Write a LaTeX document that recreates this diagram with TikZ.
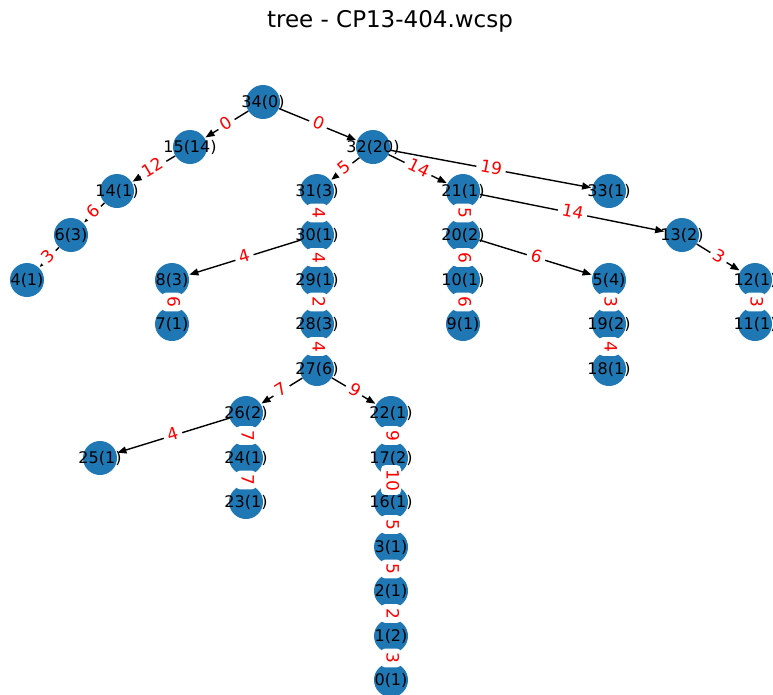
\documentclass[tikz,border=0pt]{standalone}
\usepackage{fontspec}
\setmainfont{DejaVu Sans}
\usetikzlibrary{arrows.meta}
\definecolor{nodeblue}{HTML}{1F77B4}
\pgfdeclarelayer{background}
\pgfdeclarelayer{foreground}
\pgfsetlayers{background,main,foreground}
\newcommand{\tedge}[3]{%
  \begin{pgfonlayer}{background}\draw[edgeline] (#1) -- (#2);\end{pgfonlayer}%
  \begin{pgfonlayer}{foreground}\path (#1) -- (#2) node[edgelabel]{#3};\end{pgfonlayer}}
\tikzset{
  tnode/.style={circle, fill=nodeblue, minimum size=34pt, inner sep=0pt,
    font=\fontsize{16}{19}\selectfont, text=black},
  edgeline/.style={line width=1.4pt, draw=black, -{Triangle[length=9pt,width=7pt]}, shorten >=1pt},
  edgelabel/.style={midway, sloped, text=red, fill=white, rounded corners=4pt,
    inner xsep=4pt, inner ysep=2.5pt, text height=12pt, text depth=3pt,
    font=\fontsize{17}{20}\selectfont},
  titlestyle/.style={font=\fontsize{23}{27}\selectfont, text=black}
}
\begin{document}
\begin{tikzpicture}[x=1pt,y=-1pt]
\useasboundingbox (0,0) rectangle (773,694);
\begin{pgfonlayer}{background}
\fill[white] (0,0) rectangle (773,694);
\end{pgfonlayer}
\node[titlestyle] (title) at (390,21) {tree - CP13-404.wcsp};
% nodes
\node[tnode] (n34) at (263,102) {\makebox[0pt]{34(0)}};
\node[tnode] (n15) at (190,147) {\makebox[0pt]{15(14)}};
\node[tnode] (n32) at (373,147) {\makebox[0pt]{32(20)}};
\node[tnode] (n14) at (117,191) {\makebox[0pt]{14(1)}};
\node[tnode] (n31) at (317,191) {\makebox[0pt]{31(3)}};
\node[tnode] (n21) at (463,191) {\makebox[0pt]{21(1)}};
\node[tnode] (n33) at (609,191) {\makebox[0pt]{33(1)}};
\node[tnode] (n6) at (71,235) {\makebox[0pt]{6(3)}};
\node[tnode] (n30) at (317,235) {\makebox[0pt]{30(1)}};
\node[tnode] (n20) at (463,235) {\makebox[0pt]{20(2)}};
\node[tnode] (n13) at (682,235) {\makebox[0pt]{13(2)}};
\node[tnode] (n4) at (27,280) {\makebox[0pt]{4(1)}};
\node[tnode] (n8) at (172,280) {\makebox[0pt]{8(3)}};
\node[tnode] (n29) at (317,280) {\makebox[0pt]{29(1)}};
\node[tnode] (n10) at (463,280) {\makebox[0pt]{10(1)}};
\node[tnode] (n5) at (609,280) {\makebox[0pt]{5(4)}};
\node[tnode] (n12) at (755,280) {\makebox[0pt]{12(1)}};
\node[tnode] (n7) at (172,324) {\makebox[0pt]{7(1)}};
\node[tnode] (n28) at (317,324) {\makebox[0pt]{28(3)}};
\node[tnode] (n9) at (463,324) {\makebox[0pt]{9(1)}};
\node[tnode] (n19) at (609,324) {\makebox[0pt]{19(2)}};
\node[tnode] (n11) at (755,324) {\makebox[0pt]{11(1)}};
\node[tnode] (n27) at (317,369) {\makebox[0pt]{27(6)}};
\node[tnode] (n18) at (609,369) {\makebox[0pt]{18(1)}};
\node[tnode] (n26) at (246,413) {\makebox[0pt]{26(2)}};
\node[tnode] (n22) at (391,413) {\makebox[0pt]{22(1)}};
\node[tnode] (n25) at (100,458) {\makebox[0pt]{25(1)}};
\node[tnode] (n24) at (246,458) {\makebox[0pt]{24(1)}};
\node[tnode] (n17) at (391,458) {\makebox[0pt]{17(2)}};
\node[tnode] (n23) at (246,502) {\makebox[0pt]{23(1)}};
\node[tnode] (n16) at (391,502) {\makebox[0pt]{16(1)}};
\node[tnode] (n3) at (391,547) {\makebox[0pt]{3(1)}};
\node[tnode] (n2) at (391,591) {\makebox[0pt]{2(1)}};
\node[tnode] (n1) at (391,636) {\makebox[0pt]{1(2)}};
\node[tnode] (n0) at (391,680) {\makebox[0pt]{0(1)}};
% edges
\tedge{n34}{n15}{0}
\tedge{n34}{n32}{0}
\tedge{n15}{n14}{12}
\tedge{n14}{n6}{6}
\tedge{n6}{n4}{3}
\tedge{n32}{n31}{5}
\tedge{n32}{n21}{14}
\tedge{n32}{n33}{19}
\tedge{n31}{n30}{4}
\tedge{n30}{n8}{4}
\tedge{n30}{n29}{4}
\tedge{n29}{n28}{2}
\tedge{n28}{n27}{4}
\tedge{n27}{n26}{7}
\tedge{n27}{n22}{9}
\tedge{n26}{n25}{4}
\tedge{n26}{n24}{7}
\tedge{n24}{n23}{7}
\tedge{n22}{n17}{9}
\tedge{n17}{n16}{10}
\tedge{n16}{n3}{5}
\tedge{n3}{n2}{5}
\tedge{n2}{n1}{2}
\tedge{n1}{n0}{3}
\tedge{n8}{n7}{6}
\tedge{n21}{n20}{5}
\tedge{n21}{n13}{14}
\tedge{n20}{n10}{6}
\tedge{n20}{n5}{6}
\tedge{n10}{n9}{6}
\tedge{n13}{n12}{3}
\tedge{n5}{n19}{3}
\tedge{n19}{n18}{4}
\tedge{n12}{n11}{3}
\end{tikzpicture}
\end{document}
